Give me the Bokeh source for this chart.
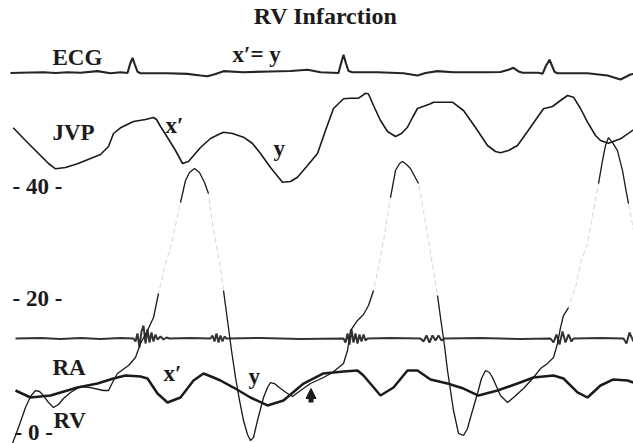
import numpy as np
from bokeh.plotting import figure
from bokeh.models import Range1d, Label, Arrow, NormalHead
from bokeh.embed import file_html
from bokeh.resources import INLINE

# ---------------- data (time in samples) ----------------
# ECG (mV relative to baseline)
ECG = [(10, -0.03), (30, 0), (43, 0.02), (55, -0.03), (67, 0.02), (80, -0.02), (97, 0.09),
       (110, -0.05), (120, 0.02), (127, -0.03), (129.5, 0.55), (132, 0.98), (134.5, 0.5),
       (137, 0.05), (140, -0.05), (167, -0.05), (187, -0.09), (200, -0.2), (207, -0.25),
       (215, -0.1), (223, 0.09), (243, 0.02), (270, 0.07), (290, 0.1), (307, 0.18), (320, 0.02),
       (338, -0.03), (340.5, 0.6), (343, 1.18), (345.5, 0.6), (348, 0.1), (352, 0.02), (377, 0.02),
       (403, -0.05), (417, -0.2), (425, -0.03), (437, 0.09), (453, 0.02), (487, 0.02), (500, 0.03),
       (508, 0.18), (513, 0.31), (518, 0.07), (522, -0.02), (538, -0.02), (542, -0.09),
       (545.5, 0.45), (549, 0.85), (551.5, 0.45), (554, 0.05), (557, -0.05), (587, -0.05),
       (607, -0.2), (620, -0.47), (630, -0.13), (633, -0.09)]

# JVP (cm, arbitrary zero)
JVP = [(12.7, 5.77), (25, 4.5), (35, 3.5), (48, 2.2), (55, 1.67), (65, 1.8), (77, 2.17),
       (100, 3.1), (108, 3.9), (113, 5.2), (120, 5.77), (133, 6.4), (145, 6.6), (153, 6.8),
       (156, 6.6), (160, 5.9), (167, 4.8), (175, 3.5), (182, 2.2), (188, 2.4), (200, 3.8),
       (210, 4.7), (218, 5.1), (223, 5.33), (232, 5.2), (243, 4.83), (252, 4.2), (260, 3.2),
       (270, 1.8), (282, 0.33), (290, 0.4), (297, 0.83), (307, 2.0), (317, 3.2), (325, 5.5),
       (333, 7.7), (343, 8.67), (350, 8.73), (358, 8.73), (362, 9.0), (365, 9.23), (368, 9.15),
       (373, 8.0), (380, 6.5), (387, 5.4), (395, 4.9), (401, 5.2), (407, 5.83), (412, 6.8),
       (417, 7.7), (430, 8.17), (433, 8.33), (452, 8.33), (463, 7.5), (475, 5.8), (487, 4.0),
       (495, 3.4), (500, 3.27), (508, 3.5), (517, 4.0), (527, 5.4), (537, 6.83), (543, 7.67),
       (552, 7.9), (560, 8.5), (567, 9.0), (573, 8.83), (580, 7.7), (587, 6.33), (595, 5.0),
       (600, 4.5), (608, 4.23), (620, 4.67), (633, 5.57)]

# Right atrial pressure (mmHg)
RA = [(15, 6.86), (30, 5.66), (50, 6.0), (77, 7.37), (97, 8.06), (113, 8.92), (125, 9.43),
      (140, 9.26), (147, 8.92), (157, 6.35), (167, 4.8), (180, 5.66), (193, 8.58), (203, 9.78),
      (213, 9.09), (220, 8.58), (233, 7.37), (250, 5.66), (267, 4.29), (283, 5.15), (303, 8.06),
      (323, 9.78), (343, 10.12), (357, 10.29), (363, 9.43), (380, 6.0), (393, 7.37),
      (407, 10.29), (417, 10.29), (430, 8.75), (447, 8.06), (463, 7.2), (478, 6.0), (497, 6.86),
      (517, 8.06), (533, 9.09), (553, 9.43), (563, 8.92), (577, 6.52), (587, 5.66), (600, 7.72),
      (613, 8.75), (627, 8.58), (633, 8.23)]

# Right ventricular pressure (mmHg)
RV = [(12, -2.2), (18, 0.51), (25, 3.94), (30, 5.83), (35, 6.86), (39, 6.69), (43, 6.0),
      (48, 4.8), (53, 3.94), (58, 4.46), (63, 5.49), (70, 6.52), (80, 7.55), (90, 7.37),
      (103, 6.86), (108, 6.86), (113, 8.58), (117, 9.78), (128, 11.15), (135, 12.52),
      (140, 14.92), (147, 17.15), (153, 19.38), (158, 23.5), (165, 28.64), (170, 31.38),
      (175, 35.16), (180, 39.1), (185, 42.88), (189, 44.25), (194, 44.93), (199, 44.25),
      (204, 42.53), (208, 40.65), (210, 37.73), (215, 32.59), (220, 27.95), (223, 24.01),
      (227, 18.87), (231, 13.72), (235, 9.09), (239, 5.15), (243, 1.72), (247, -0.69),
      (250, -1.72), (253, -1.2), (257, 1.72), (263, 5.66), (267, 7.37), (270, 8.23), (274, 8.06),
      (280, 7.2), (287, 6.35), (292, 5.83), (300, 6.86), (310, 8.06), (323, 9.09), (332, 9.95),
      (343, 11.49), (347, 13.72), (350, 17.15), (357, 18.87), (363, 19.89), (368, 21.44),
      (373, 24.01), (378, 27.95), (384, 33.44), (390, 39.96), (395, 44.59), (399, 45.79),
      (402, 46.13), (406, 45.62), (410, 44.93), (418, 42.36), (423, 37.73), (428, 32.59),
      (433, 27.44), (437, 23.15), (440, 19.38), (444, 14.58), (447, 10.29), (453, 3.43),
      (458, -0.51), (463, -0.86), (467, 0.34), (470, 2.23), (477, 6.35), (481, 8.92),
      (485, 10.29), (489, 9.95), (492, 9.09), (500, 6.0), (507, 4.8), (513, 5.66), (523, 7.2),
      (533, 9.09), (540, 10.63), (547, 11.49), (553, 12.52), (557, 14.92), (560, 17.66),
      (563, 19.72), (568, 21.09), (575, 24.52), (580, 28.64), (587, 32.07), (593, 37.73),
      (598, 42.36), (602, 46.3), (605, 48.88), (608, 50.25), (612, 49.39), (617, 48.02),
      (622, 44.59), (625, 41.67), (628, 38.93), (633, 34.3)]

# Auxiliary (phono) channel, arbitrary units around baseline
PHONO = [(15, 0), (40, 0.5), (60, -0.5), (80, 0.5), (100, -0.5), (120, 0.5), (133, 0), (135, -3),
         (137, 5), (139, -9), (141, 7), (143, 13), (145, -5), (147, 9), (149, -4), (151, 6),
         (153, -3), (155, 4), (157, -1), (160, 2), (163, -1), (166, 1), (169, 0), (190, 0.5),
         (210, 0), (212, 3), (214, -3), (216, 5), (218, -4), (220, 3), (222, -3), (224, 2),
         (226, 0), (260, 0.5), (300, -0.5), (343, 0), (345, -4), (347, 5), (349, -6), (351, 9),
         (353, -4), (355, 5), (357, -5), (359, 4), (361, -3), (363, 4), (365, -2), (367, 0),
         (390, 0.5), (420, 0), (423, -3), (426, 3), (429, -4), (432, 3), (435, -2), (438, 3),
         (441, -2), (444, 0), (480, 0.5), (520, -0.5), (550, 0), (553, -4), (556, 4), (559, -6),
         (562, 7), (565, -4), (568, 4), (571, -3), (573, 0), (600, 0.5), (623, 0), (626, -5),
         (629, 6), (633, -3)]

SCALE_TICKS = [40, 20, 0]   # mmHg

# ---------------- layout ----------------
PX = 5.83                    # pixels per mmHg on the page
ECG_BASE, ECG_GAIN = 358 / PX, 15 / PX
JVP_BASE, JVP_GAIN = 245 / PX, 10 / PX
PH_BASE, PH_GAIN = 92 / PX, 1 / PX


def ypos(pix):
    return (430 - pix) / PX


def cols(series):
    t = np.array([a for a, _ in series], dtype=float)
    v = np.array([b for _, b in series], dtype=float)
    return t, v


p = figure(width=633, height=443, x_range=Range1d(0, 633), y_range=Range1d(ypos(443), ypos(0)),
           output_backend="svg", toolbar_location=None, min_border=0,
           x_axis_type=None, y_axis_type=None)
p.grid.visible = False
p.outline_line_color = None
p.background_fill_color = "white"
p.border_fill_color = "white"

INK = "#1c1a1b"
FONT = "Liberation Serif"

t, v = cols(ECG)
p.line(t, ECG_BASE + ECG_GAIN * v, line_color="#262425", line_width=2.1)

t, v = cols(JVP)
p.line(t, JVP_BASE + JVP_GAIN * v, line_color=INK, line_width=1.6)

t, v = cols(PHONO)
p.line(t, PH_BASE + PH_GAIN * v, line_color="#333333", line_width=2.0)

t, v = cols(RV)
p.line(t, v, line_color="#c4c4c4", line_width=0.7, line_dash="5 3")
p.line(t, np.where(v <= 24.5, v, np.nan), line_color=INK, line_width=1.3)
p.line(t, np.where(v >= 38, v, np.nan), line_color=INK, line_width=1.3)

t, v = cols(RA)
p.line(t, v, line_color=INK, line_width=2.5)

p.add_layout(Arrow(end=NormalHead(size=10, fill_color=INK, line_color=INK, line_width=1),
                   x_start=310.5, y_start=ypos(402), x_end=310.5, y_end=ypos(388),
                   line_width=5, line_color=INK))


def lab(x, ybase, txt, size="23px", align="left"):
    p.add_layout(Label(x=x, y=ypos(ybase), text=txt, text_font=FONT, text_font_style="bold",
                       text_font_size=size, text_color=INK, text_align=align,
                       text_baseline="alphabetic"))


lab(325, 15, "RV Infarction", size="24px", align="center")
lab(52, 57, "ECG")
lab(232, 54, "x\u2032= y")
lab(52, 132, "JVP")
lab(165, 125, "x\u2032")
lab(273, 148, "y")
for tick, yb in zip(SCALE_TICKS, [186, 298, 432]):
    lab(12 if tick else 14, yb, f"- {tick} -")
lab(52, 367, "RA")
lab(53, 420, "RV")
lab(163, 373, "x\u2032")
lab(248, 376, "y")

open("out.html", "w").write(file_html(p, INLINE))
